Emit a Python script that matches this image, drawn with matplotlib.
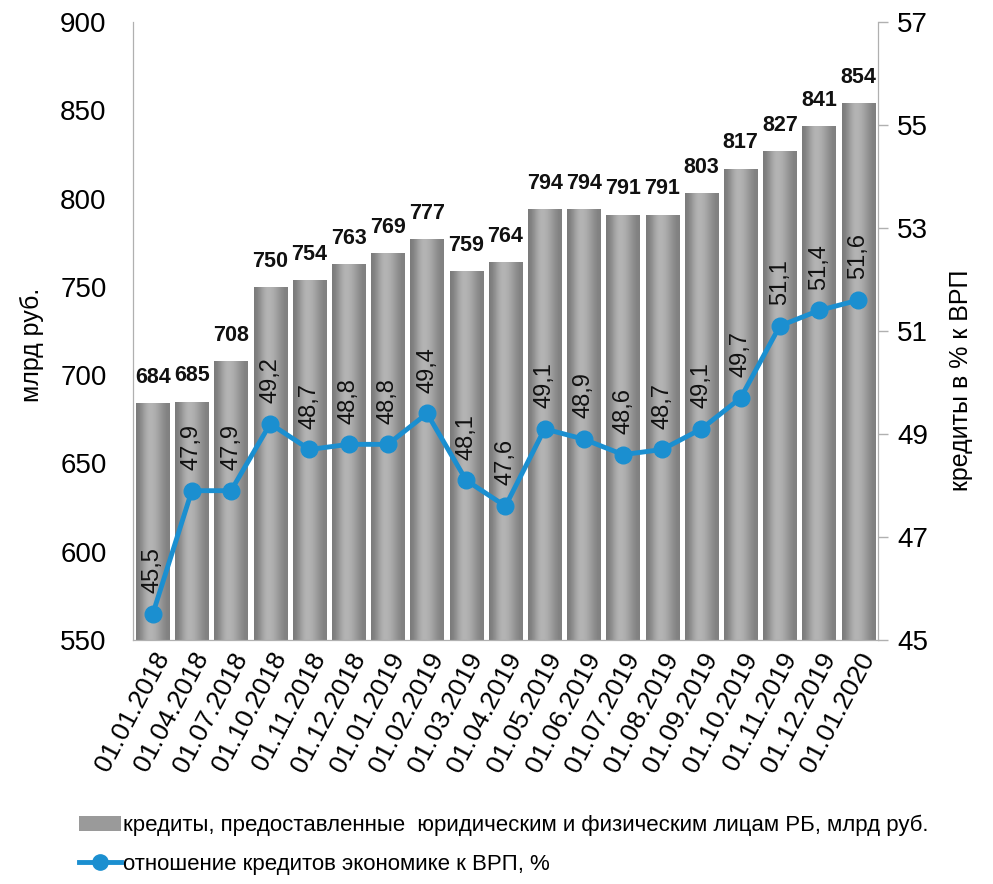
import numpy as np
import matplotlib
matplotlib.use("Agg")
from matplotlib import pyplot as plt
from matplotlib.patches import Patch
from matplotlib.lines import Line2D

plt.rcParams['font.family'] = ['Liberation Sans', 'DejaVu Sans']

dates = ["01.01.2018", "01.04.2018", "01.07.2018", "01.10.2018", "01.11.2018",
         "01.12.2018", "01.01.2019", "01.02.2019", "01.03.2019", "01.04.2019",
         "01.05.2019", "01.06.2019", "01.07.2019", "01.08.2019", "01.09.2019",
         "01.10.2019", "01.11.2019", "01.12.2019", "01.01.2020"]
credits = [684, 685, 708, 750, 754, 763, 769, 777, 759, 764,
           794, 794, 791, 791, 803, 817, 827, 841, 854]
ratio = [45.5, 47.9, 47.9, 49.2, 48.7, 48.8, 48.8, 49.4, 48.1, 47.6,
         49.1, 48.9, 48.6, 48.7, 49.1, 49.7, 51.1, 51.4, 51.6]

bar_label = "кредиты, предоставленные  юридическим и физическим лицам РБ, млрд руб."
line_label = "отношение кредитов экономике к ВРП, %"

blue = '#1b8fd0'
spine_c = '#b0b0b0'

fig = plt.figure(figsize=(9.93, 8.84), dpi=100)
ax = fig.add_axes([0.134, 0.276, 0.750, 0.699])
x = np.arange(len(dates))

# bars with cylinder-like shading
bars = ax.bar(x, credits, width=0.85, color='none', edgecolor='none', zorder=2)
shade = np.array([[0.48, 0.56, 0.65, 0.71, 0.70, 0.66, 0.60, 0.54, 0.50]])
for b in bars:
    im = ax.imshow(shade, cmap='gray', vmin=0, vmax=1, aspect='auto',
                   extent=[b.get_x(), b.get_x() + b.get_width(), 550, b.get_height()],
                   interpolation='bicubic', zorder=2)
    im.set_clip_path(b)

for xi, v in zip(x, credits):
    ax.annotate(str(v), (xi, v), xytext=(0, 11), textcoords='offset points',
                ha='center', va='bottom', fontsize=15.5, fontweight='bold', color='#111111')

ax.set_xlim(-0.5, len(dates) - 0.5)
ax.set_ylim(550, 900)
ax.set_yticks(np.arange(550, 901, 50))
ax.tick_params(axis='y', length=0, pad=19, labelsize=20)
ax.tick_params(axis='x', length=0, pad=6)
ax.set_xticks(x)
ax.set_xticklabels(dates, rotation=62, ha='right', rotation_mode='anchor', fontsize=19)
ax.spines['top'].set_visible(False)
for s in ['left', 'right', 'bottom']:
    ax.spines[s].set_color(spine_c)

ax2 = ax.twinx()
ax2.plot(x, ratio, color=blue, lw=3.5, marker='o', ms=12, zorder=3)
for xi, v in zip(x, ratio):
    ax2.annotate(f"{v:.1f}".replace('.', ','), (xi, v), xytext=(0, 15),
                 textcoords='offset points', ha='center', va='bottom',
                 rotation=90, fontsize=17, color='#111111')
ax2.set_ylim(45, 57)
ax2.set_yticks(np.arange(45, 58, 2))
ax2.tick_params(axis='y', length=7, width=1, color=spine_c, pad=7, labelsize=20)
ax2.spines['top'].set_visible(False)
for s in ['left', 'right', 'bottom']:
    ax2.spines[s].set_color(spine_c)

fig.text(0.032, 1 - 345 / 884, "млрд руб.", rotation=90, ha='center', va='center', fontsize=18)
fig.text(0.968, 1 - 380 / 884, "кредиты в % к ВРП", rotation=90, ha='center', va='center', fontsize=18)

handles = [Patch(facecolor='#9a9a9a', edgecolor='none'),
           Line2D([0], [0], color=blue, lw=3.5, marker='o', ms=11)]
fig.legend(handles, [bar_label, line_label], loc='upper left',
           bbox_to_anchor=(0.068, 1 - 804 / 884), frameon=False, fontsize=16,
           handlelength=1.9, handletextpad=0.1, labelspacing=0.8, borderpad=0)

fig.savefig("out.png", dpi=100)
